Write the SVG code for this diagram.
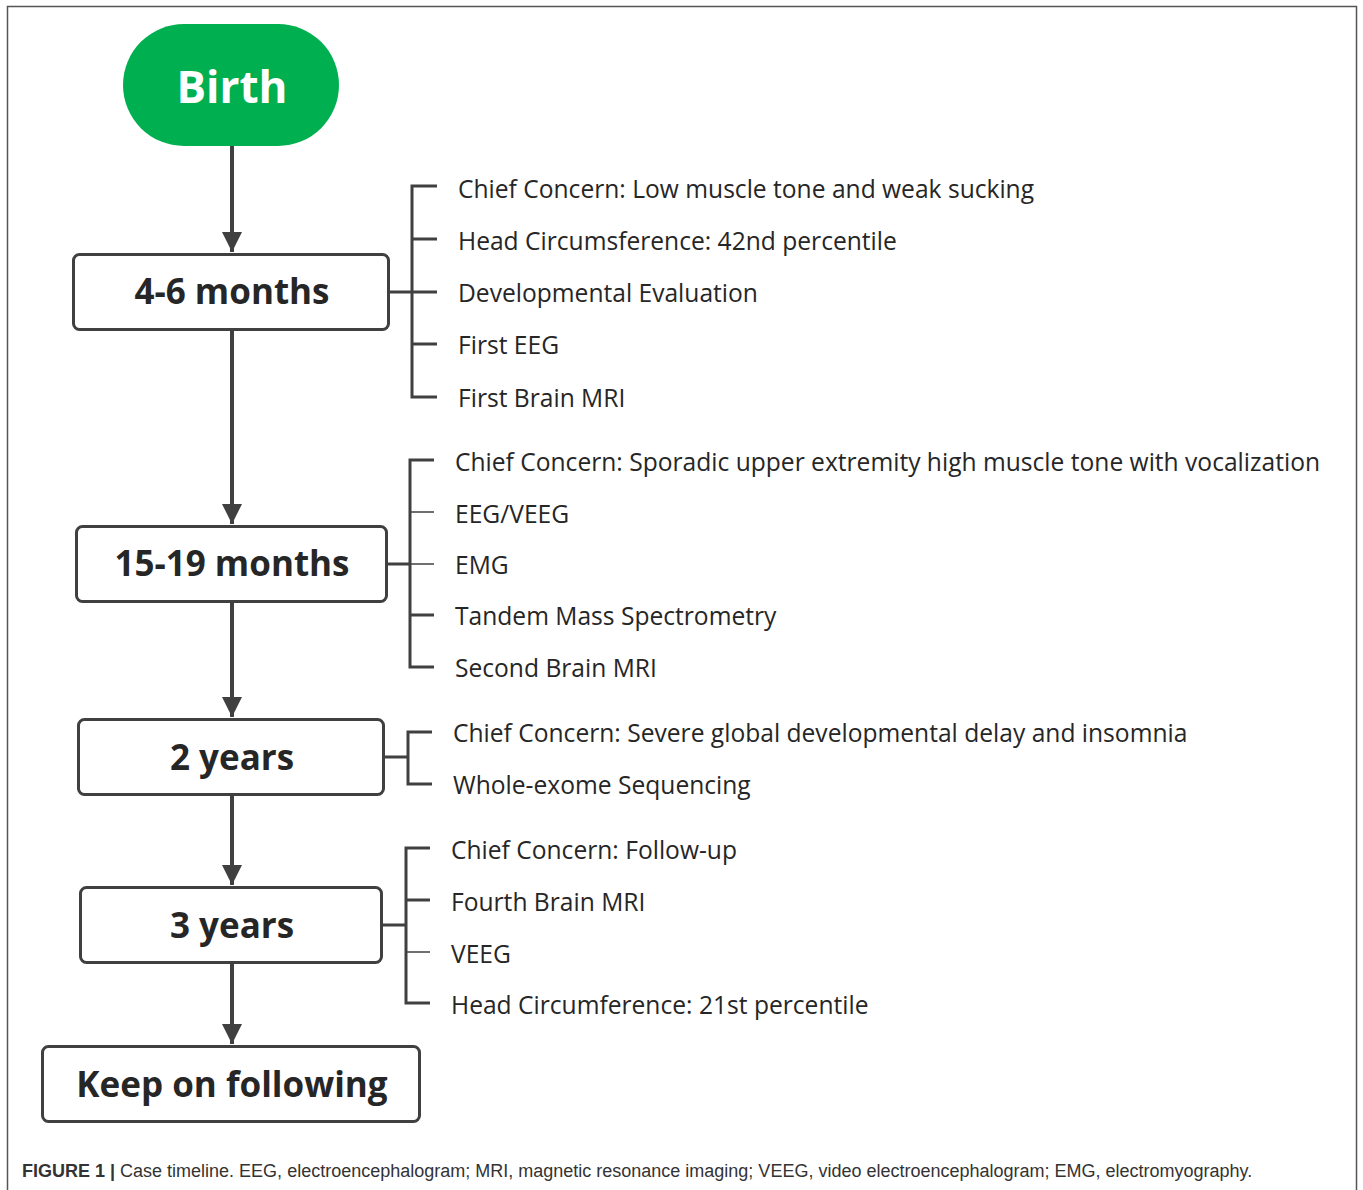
<svg xmlns="http://www.w3.org/2000/svg" width="1363" height="1190" viewBox="0 0 1363 1190">
<defs>
<marker id="ah" viewBox="0 0 10 10" refX="10" refY="5" markerWidth="5" markerHeight="5" markerUnits="strokeWidth" orient="auto">
<path d="M0,0 L10,5 L0,10 Z" fill="#404040"/>
</marker>
<style>
.box{fill:#fff;stroke:#404040;stroke-width:3}
.lbl{font-family:"Open Sans","Noto Sans",sans-serif;font-weight:bold;font-size:35px;fill:#262626;text-anchor:middle}
.item{font-family:"Open Sans","Noto Sans",sans-serif;font-size:24.6px;fill:#262626}
.br{fill:none;stroke:#404040;stroke-width:3}
.thin{fill:none;stroke:#404040;stroke-width:1.5}
.arr{stroke:#404040;stroke-width:4;fill:none}
</style>
</defs>
<rect x="0" y="0" width="1363" height="1190" fill="#fff"/>
<path d="M7.5,1190 V6.5 H1356.5 V1190" fill="none" stroke="#555" stroke-width="1.5"/>

<g id="connectors">
<line class="arr" x1="232" y1="146" x2="232" y2="252" marker-end="url(#ah)"/>
<line class="arr" x1="232" y1="331" x2="232" y2="524" marker-end="url(#ah)"/>
<line class="arr" x1="232" y1="602" x2="232" y2="717" marker-end="url(#ah)"/>
<line class="arr" x1="232" y1="796" x2="232" y2="885" marker-end="url(#ah)"/>
<line class="arr" x1="232" y1="964" x2="232" y2="1044" marker-end="url(#ah)"/>
<!-- bracket 1 -->
<path class="br" d="M389,292 H412 M437,186 H412 V397 H437 M412,239 H437 M412,292 H437 M412,344 H437"/>
<!-- bracket 2 -->
<path class="br" d="M387,564 H410 M434,460 H410 V667 H434 M410,615 H434"/>
<path class="thin" d="M410,512 H434 M410,564 H434"/>
<!-- bracket 3 -->
<path class="br" d="M384,757 H408 M432,732 H408 V784 H432"/>
<!-- bracket 4 -->
<path class="br" d="M382,925 H406 M430,848 H406 V1003 H430 M406,900 H430"/>
<path class="thin" d="M406,952 H430"/>
</g>

<g id="birth">
<rect x="123" y="24" width="216" height="122" rx="61" ry="61" fill="#00B050"/>
<text x="232" y="103" font-family="'Open Sans','Noto Sans',sans-serif" font-weight="bold" font-size="44" fill="#fff" text-anchor="middle">Birth</text>
</g>

<g id="m4-6">
<rect class="box" x="73.5" y="254.5" width="315" height="75" rx="6"/>
<text class="lbl" x="232" y="304">4-6 months</text>
</g>
<g id="m4-6-items">
<text class="item" x="458" y="198">Chief Concern: Low muscle tone and weak sucking</text>
<text class="item" x="458" y="250">Head Circumsference: 42nd percentile</text>
<text class="item" x="458" y="302">Developmental Evaluation</text>
<text class="item" x="458" y="354">First EEG</text>
<text class="item" x="458" y="407">First Brain MRI</text>
</g>

<g id="m15-19">
<rect class="box" x="76.5" y="526.5" width="310" height="75" rx="6"/>
<text class="lbl" x="232" y="576">15-19 months</text>
</g>
<g id="m15-19-items">
<text class="item" x="455" y="471">Chief Concern: Sporadic upper extremity high muscle tone with vocalization</text>
<text class="item" x="455" y="523">EEG/VEEG</text>
<text class="item" x="455" y="574">EMG</text>
<text class="item" x="455" y="625">Tandem Mass Spectrometry</text>
<text class="item" x="455" y="677">Second Brain MRI</text>
</g>

<g id="y2">
<rect class="box" x="78.5" y="719.5" width="305" height="75" rx="6"/>
<text class="lbl" x="232" y="770">2 years</text>
</g>
<g id="y2-items">
<text class="item" x="453" y="742">Chief Concern: Severe global developmental delay and insomnia</text>
<text class="item" x="453" y="794">Whole-exome Sequencing</text>
</g>

<g id="y3">
<rect class="box" x="80.5" y="887.5" width="301" height="75" rx="6"/>
<text class="lbl" x="232" y="938">3 years</text>
</g>
<g id="y3-items">
<text class="item" x="451" y="859">Chief Concern: Follow-up</text>
<text class="item" x="451" y="911">Fourth Brain MRI</text>
<text class="item" x="451" y="963">VEEG</text>
<text class="item" x="451" y="1014">Head Circumference: 21st percentile</text>
</g>

<g id="keep">
<rect class="box" x="42.5" y="1046.5" width="377" height="75" rx="6"/>
<text class="lbl" x="232" y="1097">Keep on following</text>
</g>

<text x="22" y="1177" font-family="'Liberation Sans',Arial,sans-serif" font-size="18" fill="#333"><tspan font-weight="bold">FIGURE 1 |</tspan> Case timeline. EEG, electroencephalogram; MRI, magnetic resonance imaging; VEEG, video electroencephalogram; EMG, electromyography.</text>
</svg>
